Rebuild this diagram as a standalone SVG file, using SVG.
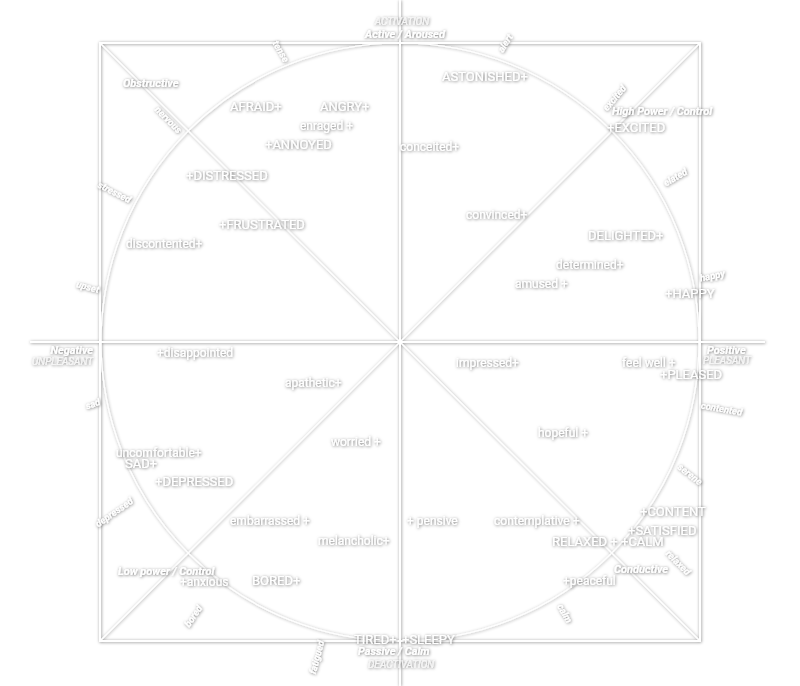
<svg xmlns="http://www.w3.org/2000/svg" width="800" height="686" viewBox="0 0 800 686">
<defs>
<filter id="sh" x="-30%" y="-60%" width="160%" height="220%">
<feDropShadow dx="0.6" dy="0.6" stdDeviation="1.4" flood-color="#000" flood-opacity="0.6"/>
</filter>
<filter id="lsh" x="-5%" y="-5%" width="110%" height="110%">
<feDropShadow dx="0.5" dy="0.5" stdDeviation="1.5" flood-color="#000" flood-opacity="0.45"/>
</filter>
<style>
text{fill:#fff;font-family:Roboto,"Liberation Sans",sans-serif}
.t{filter:url(#sh)}
.c{font-size:13px}
.l{font-size:12px}
.b{font-size:11px;font-weight:bold;font-style:italic}
.i{font-size:10px;font-style:italic;fill:#f6f6f6}
.r{font-size:9.5px;font-weight:bold;font-style:italic;text-anchor:middle}
.ln{stroke:#fff;fill:none;stroke-width:2}
.th{stroke-width:1.2}
</style>
</defs>
<rect width="800" height="686" fill="#fff"/>
<g id="connectors" filter="url(#lsh)">
<rect class="ln" x="100" y="43" width="600" height="598"/>
<circle class="ln th" cx="400" cy="342" r="299"/>
<line class="ln" x1="30" y1="342" x2="765" y2="342"/>
<line class="ln" x1="400" y1="0" x2="400" y2="686"/>
<line class="ln th" x1="100" y1="43" x2="700" y2="641"/>
<line class="ln th" x1="700" y1="43" x2="100" y2="641"/>
</g>
<g class="t">
<g id="afraid"><text class="c" x="230" y="111">AFRAID+</text></g>
<g id="angry"><text class="c" x="320" y="111">ANGRY+</text></g>
<g id="enraged"><text class="l" x="300" y="130">enraged +</text></g>
<g id="annoyed"><text class="c" x="265" y="149">+ANNOYED</text></g>
<g id="distressed"><text class="c" x="186" y="180">+DISTRESSED</text></g>
<g id="frustrated"><text class="c" x="219" y="229">+FRUSTRATED</text></g>
<g id="discontented"><text class="l" x="126" y="248">discontented+</text></g>
<g id="astonished"><text class="c" x="442" y="81">ASTONISHED+</text></g>
<g id="conceited"><text class="l" x="400" y="151">conceited+</text></g>
<g id="excitedN"><text class="c" x="607" y="132">+EXCITED</text></g>
<g id="convinced"><text class="l" x="466" y="219">convinced+</text></g>
<g id="delighted"><text class="c" x="588" y="240">DELIGHTED+</text></g>
<g id="determined"><text class="l" x="556" y="269">determined+</text></g>
<g id="amused"><text class="l" x="515" y="288">amused +</text></g>
<g id="happyN"><text class="c" x="665" y="298">+HAPPY</text></g>
<g id="disappointed"><text class="l" x="157" y="357">+disappointed</text></g>
<g id="apathetic"><text class="l" x="285" y="387">apathetic+</text></g>
<g id="worried"><text class="l" x="331" y="446">worried +</text></g>
<g id="uncomfortable"><text class="l" x="116" y="457">uncomfortable+</text></g>
<g id="sadN"><text class="c" x="125" y="468">SAD+</text></g>
<g id="depressedN"><text class="c" x="155" y="486">+DEPRESSED</text></g>
<g id="embarrassed"><text class="l" x="230" y="525">embarrassed +</text></g>
<g id="melancholic"><text class="l" x="318" y="545">melancholic+</text></g>
<g id="anxious"><text class="l" x="180" y="586">+anxious</text></g>
<g id="boredN"><text class="c" x="252" y="585">BORED+</text></g>
<g id="tired"><text class="c" x="354" y="644">TIRED+</text></g>
<g id="sleepy"><text class="c" x="402" y="644">+SLEEPY</text></g>
<g id="pensive"><text class="l" x="407" y="525">+ pensive</text></g>
<g id="contemplative"><text class="l" x="494" y="525">contemplative +</text></g>
<g id="relaxedN"><text class="c" x="552" y="546">RELAXED +</text></g>
<g id="calmN"><text class="c" x="621" y="546">+CALM</text></g>
<g id="satisfied"><text class="c" x="628" y="535">+SATISFIED</text></g>
<g id="content"><text class="c" x="640" y="516">+CONTENT</text></g>
<g id="peaceful"><text class="l" x="563" y="585">+peaceful</text></g>
<g id="impressed"><text class="l" x="456" y="367">impressed+</text></g>
<g id="feelwell"><text class="l" x="622" y="367">feel well +</text></g>
<g id="pleased"><text class="c" x="660" y="379">+PLEASED</text></g>
<g id="hopeful"><text class="l" x="538" y="437">hopeful +</text></g>

<g id="activation"><text class="i" x="402" y="25" text-anchor="middle">ACTIVATION</text><text class="b" x="405" y="38" text-anchor="middle">Active / Aroused</text></g>
<g id="obstructive"><text class="b" x="123" y="87">Obstructive</text></g>
<g id="highpower"><text class="b" x="612" y="115">High Power / Control</text></g>
<g id="negative"><text class="b" x="93" y="354" text-anchor="end">Negative</text><text class="i" x="93" y="365" text-anchor="end">UNPLEASANT</text></g>
<g id="positive"><text class="b" x="707" y="354">Positive</text><text class="i" x="703" y="364">PLEASANT</text></g>
<g id="lowpower"><text class="b" x="118" y="575">Low power / Control</text></g>
<g id="conductive"><text class="b" x="614" y="573">Conductive</text></g>
<g id="deactivation"><text class="b" x="358" y="655">Passive / Calm</text><text class="i" x="368" y="668">DEACTIVATION</text></g>

<g id="tense"><text class="r" transform="translate(278,53) rotate(60)">tense</text></g>
<g id="alert"><text class="r" transform="translate(508,45) rotate(-58)">alert</text></g>
<g id="excited"><text class="r" transform="translate(617,100) rotate(-50)">excited</text></g>
<g id="elated"><text class="r" transform="translate(677,180) rotate(-30)">elated</text></g>
<g id="happy"><text class="r" transform="translate(713,279) rotate(-12)">happy</text></g>
<g id="contented"><text class="r" transform="translate(721,412) rotate(10)">contented</text></g>
<g id="serene"><text class="r" transform="translate(688,477) rotate(38)">serene</text></g>
<g id="relaxed"><text class="r" transform="translate(676,565) rotate(45)">relaxed</text></g>
<g id="calm"><text class="r" transform="translate(562,615) rotate(60)">calm</text></g>
<g id="fatigued"><text class="r" transform="translate(320,658) rotate(-75)">fatigued</text></g>
<g id="bored"><text class="r" transform="translate(196,618) rotate(-55)">bored</text></g>
<g id="depressed"><text class="r" transform="translate(116,515) rotate(-35)">depressed</text></g>
<g id="sad"><text class="r" transform="translate(94,407) rotate(-20)">sad</text></g>
<g id="upset"><text class="r" transform="translate(87,290) rotate(15)">upset</text></g>
<g id="stressed"><text class="r" transform="translate(113,195) rotate(27)">stressed</text></g>
<g id="nervous"><text class="r" transform="translate(166,122) rotate(45)">nervous</text></g>
</g>
</svg>
